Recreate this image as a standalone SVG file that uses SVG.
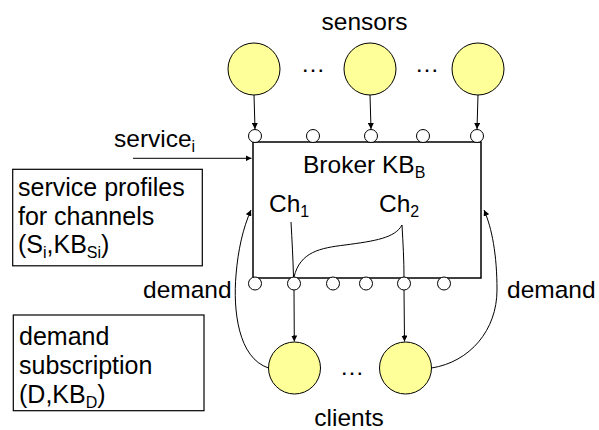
<svg xmlns="http://www.w3.org/2000/svg" width="599" height="430" viewBox="0 0 599 430">
<style>
text{font-family:"Liberation Sans",Arial,sans-serif;font-size:24.5px;fill:#000}
.big{font-size:25px}
.sub{font-size:16px}
.node{fill:#ffff99;stroke:#000;stroke-width:1}
.port{fill:#fff;stroke:#000;stroke-width:1}
.box{fill:#fff;stroke:#000;stroke-width:1.2}
.edge{fill:none;stroke:#000;stroke-width:1}
</style>
<defs>
<marker id="arr" markerUnits="userSpaceOnUse" markerWidth="7" markerHeight="6" refX="6" refY="3" orient="auto">
<path d="M0,0 L6,3 L0,6 z" fill="#000"/>
</marker>
</defs>
<rect width="599" height="430" fill="#fff"/>
<text x="364.5" y="30" text-anchor="middle">sensors</text>
<g id="sensor1"><circle class="node" cx="254" cy="69" r="26"/></g>
<text x="313" y="72" text-anchor="middle">…</text>
<g id="sensor2"><circle class="node" cx="370" cy="69" r="26"/></g>
<text x="427" y="72" text-anchor="middle">…</text>
<g id="sensor3"><circle class="node" cx="478" cy="69" r="26"/></g>
<g id="broker">
<rect x="253" y="142" width="228" height="136" fill="#fff" stroke="#000" stroke-width="1.5"/>
<text x="303" y="173">Broker KB<tspan class="sub" dy="5">B</tspan></text>
<text x="269" y="212">Ch<tspan class="sub" dy="5">1</tspan></text>
<text x="379" y="212">Ch<tspan class="sub" dy="5">2</tspan></text>
</g>
<g id="ports">
<circle class="port" cx="255" cy="136" r="6.5"/>
<circle class="port" cx="313" cy="136" r="6.5"/>
<circle class="port" cx="371" cy="136" r="6.5"/>
<circle class="port" cx="423" cy="136" r="6.5"/>
<circle class="port" cx="477" cy="136" r="6.5"/>
<circle class="port" cx="255" cy="283.5" r="6.5"/>
<circle class="port" cx="294" cy="283.5" r="6.5"/>
<circle class="port" cx="333" cy="283.5" r="6.5"/>
<circle class="port" cx="366" cy="283.5" r="6.5"/>
<circle class="port" cx="404" cy="283.5" r="6.5"/>
<circle class="port" cx="444" cy="283.5" r="6.5"/>
</g>
<g id="client1"><circle class="node" cx="294.5" cy="368" r="26"/></g>
<text x="352" y="375" text-anchor="middle">…</text>
<g id="client2"><circle class="node" cx="405.5" cy="368" r="26"/></g>
<text x="349" y="426" text-anchor="middle">clients</text>
<g id="service-profiles">
<rect class="box" x="12.7" y="169.3" width="189.6" height="96.5"/>
<text class="big" x="18" y="196">service profiles</text>
<text class="big" x="18" y="225">for channels</text>
<text class="big" x="18" y="253">(S<tspan class="sub" dy="5">i</tspan><tspan dy="-5">,KB</tspan><tspan class="sub" dy="5">Si</tspan><tspan dy="-5">)</tspan></text>
</g>
<g id="demand-subscription">
<rect class="box" x="13.3" y="315" width="190.7" height="95.7"/>
<text class="big" x="19" y="345">demand</text>
<text class="big" x="19" y="374">subscription</text>
<text class="big" x="19" y="403">(D,KB<tspan class="sub" dy="5">D</tspan><tspan dy="-5">)</tspan></text>
</g>
<text x="114" y="147">service<tspan class="sub" dy="5">i</tspan></text>
<text x="143" y="298">demand</text>
<text x="507" y="298">demand</text>
<g id="connectors">
<path class="edge" d="M254,95 L255,129" marker-end="url(#arr)"/>
<path class="edge" d="M370,95 L371,129" marker-end="url(#arr)"/>
<path class="edge" d="M478,95 L477,129" marker-end="url(#arr)"/>
<path class="edge" d="M294,290 L294.3,341.5" marker-end="url(#arr)"/>
<path class="edge" d="M404,290 L404.5,341.5" marker-end="url(#arr)"/>
<path class="edge" d="M133,158.3 L251.5,158.3" marker-end="url(#arr)"/>
<path class="edge" d="M291,222 C292,240 293,258 293.5,277"/>
<path class="edge" d="M402,225 C403,243 404,260 404,277"/>
<path class="edge" d="M294,277 C300,252 320,248 345,245 C375,241 395,238 402,225"/>
<path class="edge" d="M268.5,368 C238,358 233,310 236,275 C238,250 243,228 251,210" marker-end="url(#arr)"/>
<path class="edge" d="M431.5,368 C470,362 497,330 497,290 C497,255 492,228 484,210" marker-end="url(#arr)"/>
</g>
</svg>
